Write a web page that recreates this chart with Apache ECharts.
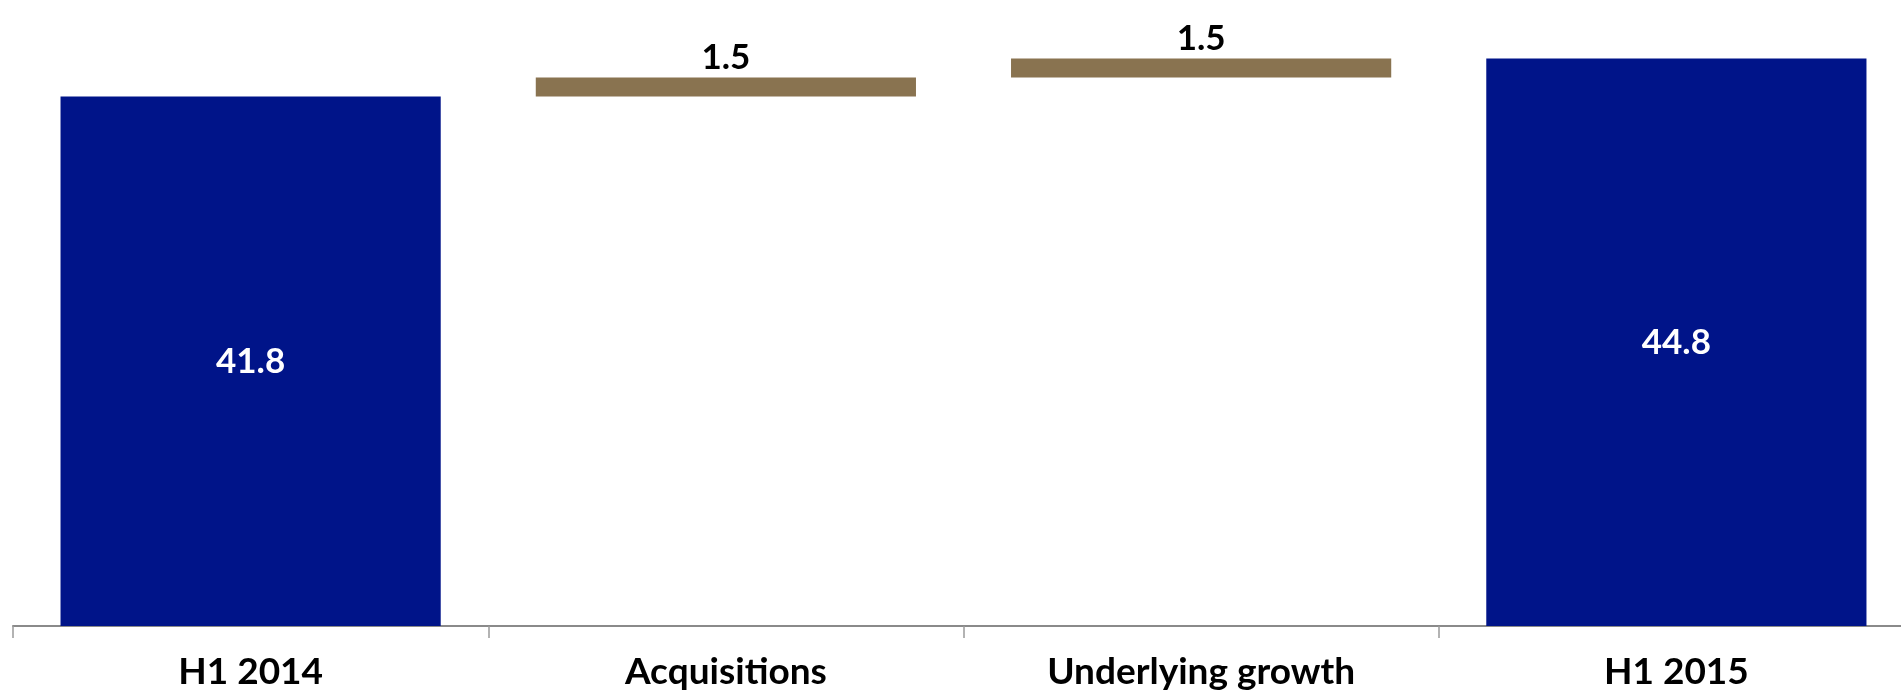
<!DOCTYPE html>
<html>
<head>
<meta charset="utf-8">
<script src="https://cdn.jsdelivr.net/npm/echarts@6/dist/echarts.min.js"></script>
<style>
html,body{margin:0;padding:0;background:#fff;overflow:hidden;width:1901px;height:692px;}
#chart{width:1914px;height:692px;}
</style>
</head>
<body>
<div id="chart"></div>
<script>
const categories = ['H1 2014', 'Acquisitions', 'Underlying growth', 'H1 2015'];
const values = [41.8, 1.5, 1.5, 44.8];
const isTotal = [true, false, false, true];

// build waterfall base offsets from the values
const base = [];
let running = 0;
values.forEach((v, i) => {
  if (isTotal[i]) { base.push(0); running = v; }
  else { base.push(running); running += v; }
});

const NAVY = '#001489';
const GOLD = '#897350';
const FONT = 'Lato';

const chart = echarts.init(document.getElementById('chart'), null, {renderer: 'canvas'});
chart.setOption({
  animation: false,
  grid: {left: 13, right: 0, top: 18, bottom: 66, containLabel: false},
  xAxis: {
    type: 'category',
    data: categories,
    axisLine: {show: true, lineStyle: {color: '#8a8a8a', width: 2}},
    axisTick: {show: true, length: 12, lineStyle: {color: '#9a9a9a', width: 1.5}},
    axisLabel: {color: '#000', fontFamily: FONT, fontWeight: 'bold', fontSize: 37, margin: 28, interval: 0}
  },
  yAxis: {type: 'value', min: 0, max: 48, show: false, splitLine: {show: false}},
  series: [
    {
      type: 'bar', stack: 'wf', barWidth: '80%', silent: true,
      itemStyle: {color: 'rgba(0,0,0,0)'},
      data: base
    },
    {
      type: 'bar', stack: 'wf', barWidth: '80%',
      data: values.map((v, i) => ({
        value: v,
        itemStyle: {color: isTotal[i] ? NAVY : GOLD},
        label: isTotal[i]
          ? {show: true, position: 'inside', color: '#fff', fontFamily: FONT, fontWeight: 'bold', fontSize: 35}
          : {show: true, position: 'top', distance: 2, color: '#000', fontFamily: FONT, fontWeight: 'bold', fontSize: 35}
      })),
      label: {formatter: p => p.value.toFixed(1)}
    }
  ]
});
</script>
</body>
</html>
